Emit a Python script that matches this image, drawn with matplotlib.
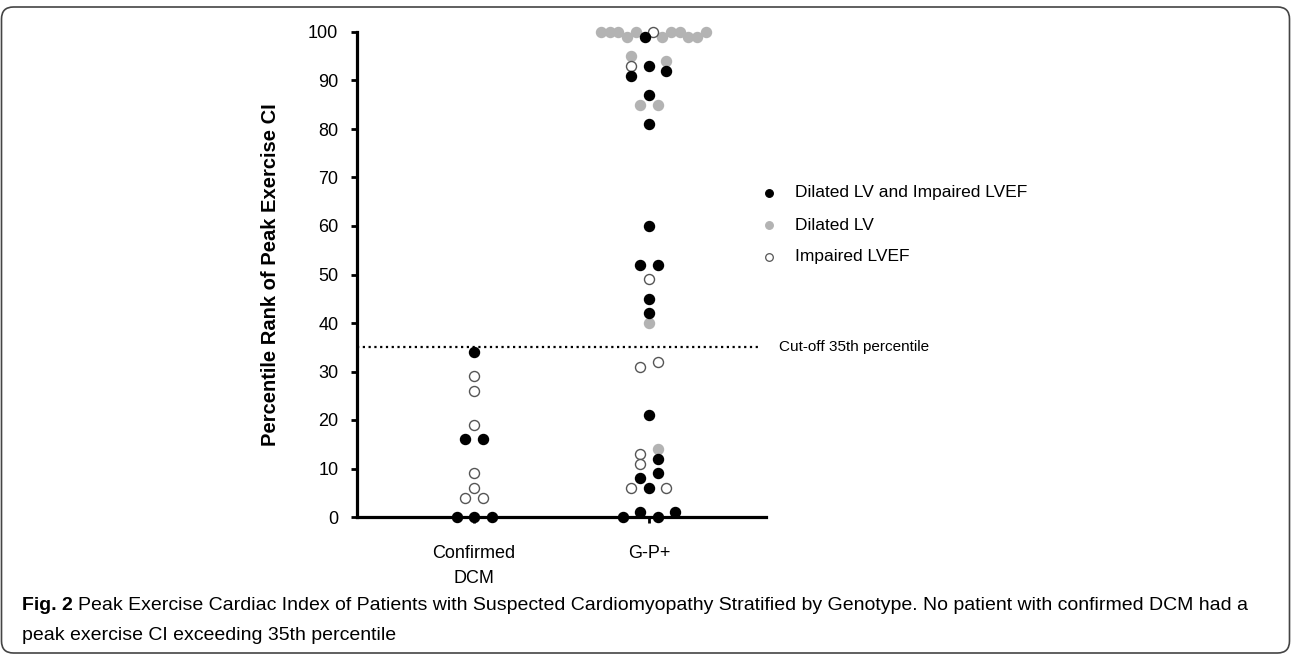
import matplotlib
matplotlib.use("Agg")
import matplotlib.pyplot as plt
from matplotlib import font_manager
from matplotlib.lines import Line2D
from matplotlib.patches import FancyBboxPatch

# --- data ---
categories = ["Confirmed\nDCM", "G-P+"]

dcm_values = [34, 29, 26, 19, 16, 16, 9, 6, 4, 4, 0, 0, 0]
dcm_groups = ["both", "imp", "imp", "imp", "both", "both", "imp", "imp", "imp", "imp", "both", "both", "both"]
dcm_slots = [0, 0, 0, 0, -1, 1, 0, 0, -1, 1, -2, 0, 2]

gp_values = [100, 100, 100, 99, 100, 99, 100, 99, 100, 100, 99, 99, 100,
             95, 93, 93, 94, 91, 92, 87, 85, 85, 81, 60, 52, 52, 49, 45, 42, 40,
             31, 32, 21, 13, 14, 12, 11, 9, 8, 6, 6, 6, 0, 1, 0, 1]
gp_groups = ["dil", "dil", "dil", "dil", "dil", "both", "imp", "dil", "dil", "dil", "dil", "dil", "dil",
             "dil", "imp", "both", "dil", "both", "both", "both", "dil", "dil", "both", "both", "both", "both",
             "imp", "both", "both", "dil",
             "imp", "imp", "both", "imp", "dil", "both", "imp", "both", "both", "imp", "both", "imp",
             "both", "both", "both", "both"]
gp_slots = [-5.5, -4.5, -3.5, -2.5, -1.5, -0.5, 0.5, 1.5, 2.5, 3.5, 4.5, 5.5, 6.5,
            -2, -2, 0, 2, -2, 2, 0, -1, 1, 0, 0, -1, 1, 0, 0, 0, 0,
            -1, 1, 0, -1, 1, 1, -1, 1, -1, -2, 0, 2, -3, -1, 1, 3]

cutoff = 35
group_labels = {"both": "Dilated LV and Impaired LVEF", "dil": "Dilated LV", "imp": "Impaired LVEF"}

fonts = {f.name for f in font_manager.fontManager.ttflist}
sans = "Liberation Sans" if "Liberation Sans" in fonts else "DejaVu Sans"
narrow = "Liberation Sans Narrow" if "Liberation Sans Narrow" in fonts else sans
plt.rcParams["font.family"] = [sans, "DejaVu Sans"]

W, H = 1292, 655
fig = plt.figure(figsize=(W / 100, H / 100), dpi=100)
ax = fig.add_axes([357 / W, 1 - 517 / H, (766 - 357) / W, (517 - 32) / H])

styles = {
    "both": dict(color="black", edgecolors="black"),
    "dil": dict(color="#b3b3b3", edgecolors="#b3b3b3"),
    "imp": dict(color="white", edgecolors="#555555"),
}
step = 0.05
for g in ["dil", "imp", "both"]:
    xs, ys = [], []
    for pos, (vals, grps, slots) in enumerate([(dcm_values, dcm_groups, dcm_slots),
                                               (gp_values, gp_groups, gp_slots)]):
        for v, gg, s in zip(vals, grps, slots):
            if gg == g:
                xs.append(pos + s * step)
                ys.append(v)
    ax.scatter(xs, ys, s=52, linewidths=1.0, clip_on=False, zorder=3, **styles[g])

ax.plot([-0.669, 1.64], [cutoff, cutoff], color="black", lw=1.6,
        linestyle=(0, (1, 1.6)), clip_on=False, zorder=2)
fig.text(779 / W, 1 - 347 / H, "Cut-off 35th percentile", fontsize=11, va="center")

ax.set_xlim(-0.669, 1.669)
ax.set_ylim(0, 100)
ax.set_yticks(range(0, 101, 10))
ax.set_xticks([0, 1])
ax.set_xticklabels(categories)
for t in ax.get_xticklabels():
    t.set_linespacing(1.6)
for side in ["top", "right"]:
    ax.spines[side].set_visible(False)
for side in ["left", "bottom"]:
    ax.spines[side].set_linewidth(2.3)
ax.tick_params(axis="y", length=4.5, width=2.0, labelsize=13, pad=9)
ax.tick_params(axis="x", length=4, width=2.0, labelsize=13, pad=16)
ax.set_ylabel("Percentile Rank of Peak Exercise CI", fontsize=14.5, fontweight="bold")
ax.yaxis.set_label_coords(-0.188, 0.5)

# legend drawn by hand
for i, g in enumerate(["both", "dil", "imp"]):
    y = 1 - (193 + 32 * i) / H
    st = styles[g]
    fig.add_artist(Line2D([769 / W], [y], marker="o", markersize=5.5, markeredgewidth=0.9,
                          markerfacecolor=st["color"], markeredgecolor=st["edgecolors"],
                          linestyle="none", transform=fig.transFigure))
    fig.text(795 / W, y, group_labels[g], fontsize=12.5, va="center")

# frame around figure and caption
fig.add_artist(FancyBboxPatch((1.5, 2), 1288, 646, boxstyle="round,pad=0,rounding_size=12",
                              transform=None, fill=False, edgecolor="#444444", lw=1.2))

r = fig.canvas.get_renderer()
x0 = 22
line1 = "Peak Exercise Cardiac Index of Patients with Suspected Cardiomyopathy Stratified by Genotype. No patient with confirmed DCM had a"
line2 = "peak exercise CI exceeding 35th percentile"
fs = 16
t1 = fig.text(x0 / W, 1 - 606 / H, "Fig. 2", fontsize=fs, fontweight="bold", family=narrow, va="center")
t2 = fig.text(0, 1 - 606 / H, line1, fontsize=fs, family=narrow, va="center")
t3 = fig.text(x0 / W, 1 - 636 / H, line2, fontsize=fs, family=narrow, va="center")
total = t1.get_window_extent(r).width + 5 + t2.get_window_extent(r).width
fs = fs * (1243 - x0) / total
for t in (t1, t2, t3):
    t.set_fontsize(fs)
w1 = t1.get_window_extent(r).width
t2.set_x((x0 + w1 + 5) / W)

fig.savefig("out.png", dpi=100)
